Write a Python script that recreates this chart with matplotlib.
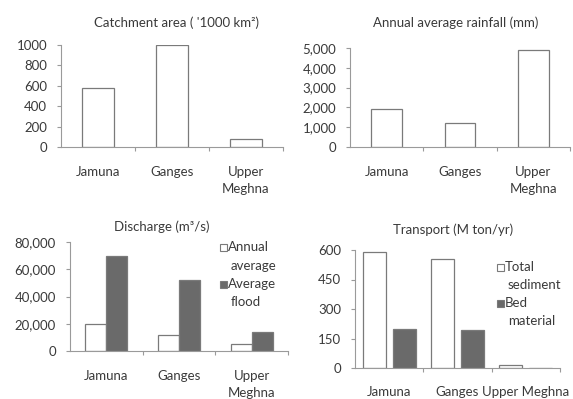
import numpy as np
import matplotlib
matplotlib.use("Agg")
import matplotlib.pyplot as plt
from matplotlib.patches import Rectangle
from matplotlib.ticker import FuncFormatter

plt.rcParams['font.family'] = ['Lato', 'DejaVu Sans']
plt.rcParams['font.size'] = 9.5
plt.rcParams['text.color'] = '#3a3a3a'

rivers = ["Jamuna", "Ganges", "Upper\nMeghna"]
rivers_transport = ["Jamuna", "Ganges", "Upper Meghna"]

catchment = [575, 1000, 80]
rainfall = [1900, 1200, 4900]
discharge_annual = [20000, 12000, 5000]
discharge_flood = [70000, 52000, 14000]
sediment_total = [592, 552, 13]
sediment_bed = [198, 194, 1]

discharge_legend = [("Annual", "average"), ("Average", "flood")]
transport_legend = [("Total", "sediment"), ("Bed", "material")]

EDGE = '#7a7a7a'
DARK = '#6a6a6a'
FS = 9.5
W, H = 573, 399


def px_axes(fig, left, top, right, bottom):
    return fig.add_axes([left / W, 1 - bottom / H, (right - left) / W, (bottom - top) / H])


def style(ax, labels, ymax, yticks, comma):
    for s in ['top', 'right']:
        ax.spines[s].set_visible(False)
    for s in ['left', 'bottom']:
        ax.spines[s].set_color('#9a9a9a')
        ax.spines[s].set_linewidth(0.8)
    ax.set_xlim(-0.5, 2.5)
    ax.set_ylim(0, ymax)
    ax.set_yticks(yticks)
    if comma:
        ax.yaxis.set_major_formatter(FuncFormatter(lambda v, p: f"{int(v):,}"))
    ax.set_xticks([0.5, 1.5, 2.5])
    ax.set_xticklabels([])
    ax.set_xticks([0, 1, 2], minor=True)
    ax.set_xticklabels(labels, minor=True, linespacing=1.45)
    ax.tick_params(axis='x', which='major', length=3, color='#9a9a9a', direction='out')
    ax.tick_params(axis='x', which='minor', length=0, pad=14, labelsize=FS, labelcolor='#3a3a3a')
    ax.tick_params(axis='y', length=3, color='#9a9a9a', pad=7, labelsize=FS, labelcolor='#3a3a3a')


def legend(fig, entries, x0, y0, step):
    # two-line legend entries: square aligned with the first line
    colors = ['white', DARK]
    for i, (first, second) in enumerate(entries):
        y = y0 + i * 2 * step
        fig.patches.append(Rectangle(((x0) / W, 1 - (y + 3.5) / H), 7 / W, 7 / H,
                                     transform=fig.transFigure, facecolor=colors[i],
                                     edgecolor=EDGE, linewidth=0.8))
        fig.text((x0 + 8) / W, 1 - y / H, first, ha='left', va='center', fontsize=FS)
        fig.text((x0 + 11) / W, 1 - (y + step) / H, second, ha='left', va='center', fontsize=FS)


fig = plt.figure(figsize=(W / 100, H / 100), dpi=100)
x = np.arange(3)

# catchment area
ax1 = px_axes(fig, 61, 45, 283, 147)
ax1.bar(x, catchment, 0.42, color='white', edgecolor=EDGE, linewidth=0.9)
style(ax1, rivers, 1000, [0, 200, 400, 600, 800, 1000], False)
fig.text(177 / W, 1 - 23 / H, "Catchment area ( '1000 km²)", ha='center', va='center')

# rainfall
ax2 = px_axes(fig, 350, 48, 570, 147)
ax2.bar(x, rainfall, 0.42, color='white', edgecolor=EDGE, linewidth=0.9)
style(ax2, rivers, 5000, [0, 1000, 2000, 3000, 4000, 5000], True)
fig.text(456 / W, 1 - 23 / H, "Annual average rainfall (mm)", ha='center', va='center')

# discharge
ax3 = px_axes(fig, 70, 242, 288, 351)
ax3.bar(x - 0.145, discharge_annual, 0.29, color='white', edgecolor=EDGE, linewidth=0.9)
ax3.bar(x + 0.145, discharge_flood, 0.29, color=DARK, edgecolor=EDGE, linewidth=0.9)
style(ax3, rivers, 80000, [0, 20000, 40000, 60000, 80000], True)
fig.text(162 / W, 1 - 227 / H, "Discharge (m³/s)", ha='center', va='center')
legend(fig, discharge_legend, 220, 247, 18.5)

# transport
ax4 = px_axes(fig, 355, 250, 560, 368)
ax4.bar(x - 0.22, sediment_total, 0.34, color='white', edgecolor=EDGE, linewidth=0.9)
ax4.bar(x + 0.22, sediment_bed, 0.34, color=DARK, edgecolor=EDGE, linewidth=0.9)
style(ax4, rivers_transport, 600, [0, 150, 300, 450, 600], False)
ax4.tick_params(axis='x', which='minor', pad=13)
fig.text(453 / W, 1 - 230 / H, "Transport (M ton/yr)", ha='center', va='center')
legend(fig, transport_legend, 497, 267, 18)

fig.savefig("out.png", dpi=100)
